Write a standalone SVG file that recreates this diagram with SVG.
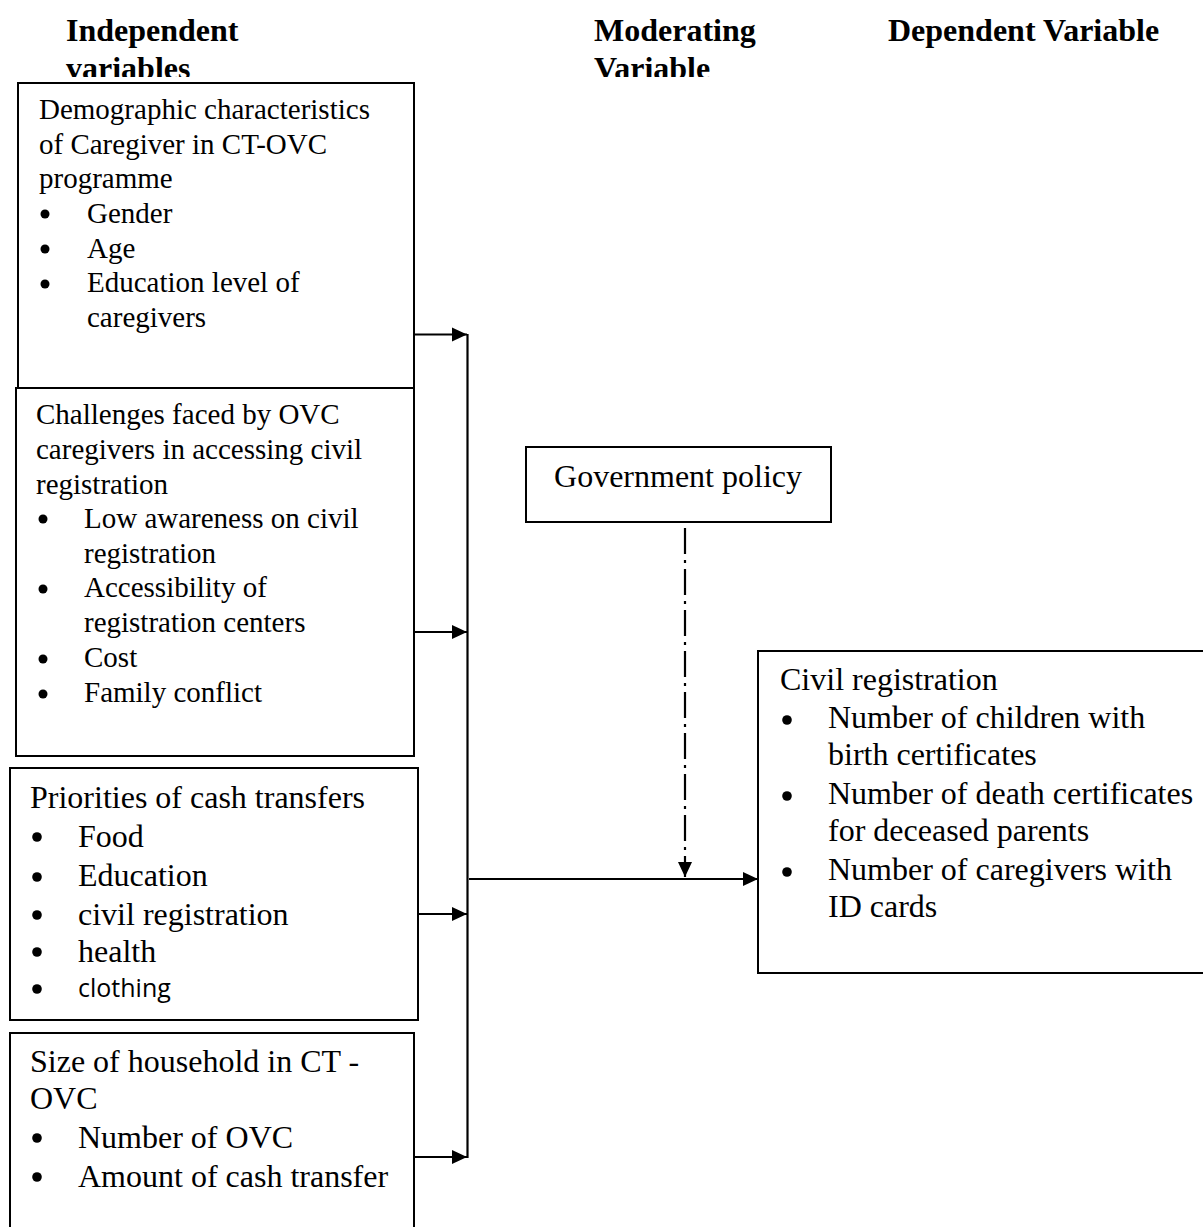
<svg xmlns="http://www.w3.org/2000/svg" width="1203" height="1227" viewBox="0 0 1203 1227">
<defs>
<style>
.box{fill:#fff;stroke:#000;stroke-width:2}
.t{font-family:"Liberation Serif","Times New Roman",serif;fill:#000}
.s29{font-size:29px}
.s32{font-size:32px}
.h{font-family:"Liberation Serif","Times New Roman",serif;font-weight:bold;font-size:32px;fill:#000}
.sans{font-family:"Open Sans","Liberation Sans",sans-serif;font-size:25px;fill:#000}
.b{fill:#000}
.ln{stroke:#000;stroke-width:2.2;fill:none}
.dd{stroke:#000;stroke-width:2.2;fill:none;stroke-dasharray:26 6 3 6}
</style>
<marker id="ah" markerUnits="userSpaceOnUse" markerWidth="16" markerHeight="16" viewBox="0 0 16 16" refX="15" refY="8" orient="auto">
<path d="M0,1 L15,8 L0,15 Z" fill="#000"/>
</marker>
<clipPath id="hclip"><rect x="0" y="0" width="1203" height="77"/></clipPath>
</defs>
<rect width="1203" height="1227" fill="#fff"/>

<g id="headings" clip-path="url(#hclip)">
<text class="h" x="66" y="41">Independent</text>
<text class="h" x="66" y="79">variables</text>
<text class="h" x="594" y="41">Moderating</text>
<text class="h" x="594" y="79">Variable</text>
<text class="h" x="888" y="41">Dependent Variable</text>
</g>

<g id="connectors">
<line class="ln" x1="467.5" y1="334" x2="467.5" y2="1158"/>
<line class="ln" x1="414" y1="334.5" x2="467" y2="334.5" marker-end="url(#ah)"/>
<line class="ln" x1="411" y1="632" x2="467" y2="632" marker-end="url(#ah)"/>
<line class="ln" x1="418" y1="914" x2="467" y2="914" marker-end="url(#ah)"/>
<line class="ln" x1="411" y1="1157" x2="467" y2="1157" marker-end="url(#ah)"/>
<line class="ln" x1="469" y1="879" x2="758" y2="879" marker-end="url(#ah)"/>
<line class="dd" x1="685" y1="528" x2="685" y2="877" marker-end="url(#ah)"/>
</g>

<g id="node-demographic">
<rect class="box" x="18" y="83" width="396" height="305"/>
<text class="t s29" x="39" y="119">Demographic characteristics</text>
<text class="t s29" x="39" y="153.7">of Caregiver in CT-OVC</text>
<text class="t s29" x="39" y="188.4">programme</text>
<circle class="b" cx="45" cy="214" r="4.5"/>
<text class="t s29" x="87" y="223">Gender</text>
<circle class="b" cx="45" cy="249" r="4.5"/>
<text class="t s29" x="87" y="257.7">Age</text>
<circle class="b" cx="45" cy="284" r="4.5"/>
<text class="t s29" x="87" y="292.4">Education level of</text>
<text class="t s29" x="87" y="327">caregivers</text>
</g>

<g id="node-challenges">
<rect class="box" x="16" y="388" width="398" height="368"/>
<text class="t s29" x="36" y="424">Challenges faced by OVC</text>
<text class="t s29" x="36" y="459">caregivers in accessing civil</text>
<text class="t s29" x="36" y="493.5">registration</text>
<circle class="b" cx="43" cy="519" r="4.5"/>
<text class="t s29" x="84" y="528">Low awareness on civil</text>
<text class="t s29" x="84" y="562.5">registration</text>
<circle class="b" cx="43" cy="589" r="4.5"/>
<text class="t s29" x="84" y="597">Accessibility of</text>
<text class="t s29" x="84" y="631.5">registration centers</text>
<circle class="b" cx="43" cy="659" r="4.5"/>
<text class="t s29" x="84" y="667">Cost</text>
<circle class="b" cx="43" cy="694" r="4.5"/>
<text class="t s29" x="84" y="702">Family conflict</text>
</g>

<g id="node-priorities">
<rect class="box" x="10" y="768" width="408" height="252"/>
<text class="t s32" x="30" y="808">Priorities of cash transfers</text>
<circle class="b" cx="37" cy="837" r="4.8"/>
<text class="t s32" x="78" y="847">Food</text>
<circle class="b" cx="37" cy="877" r="4.8"/>
<text class="t s32" x="78" y="886">Education</text>
<circle class="b" cx="37" cy="915" r="4.8"/>
<text class="t s32" x="78" y="925">civil registration</text>
<circle class="b" cx="37" cy="952" r="4.8"/>
<text class="t s32" x="78" y="962">health</text>
<circle class="b" cx="37" cy="989" r="4.8"/>
<text class="sans" x="78" y="997">clothing</text>
</g>

<g id="node-household">
<rect class="box" x="10" y="1033" width="404" height="220"/>
<text class="t s32" x="30" y="1072">Size of household in CT -</text>
<text class="t s32" x="30" y="1109">OVC</text>
<circle class="b" cx="37" cy="1138" r="4.8"/>
<text class="t s32" x="78" y="1148">Number of OVC</text>
<circle class="b" cx="37" cy="1177" r="4.8"/>
<text class="t s32" x="78" y="1187">Amount of cash transfer</text>
</g>

<g id="node-government">
<rect class="box" x="526" y="447" width="305" height="75"/>
<text class="t s32" x="678" y="487" text-anchor="middle">Government policy</text>
</g>

<g id="node-civil">
<rect class="box" x="758" y="651" width="460" height="322"/>
<text class="t s32" x="780" y="690">Civil registration</text>
<circle class="b" cx="787" cy="720" r="4.8"/>
<text class="t s32" x="828" y="728">Number of children with</text>
<text class="t s32" x="828" y="765">birth certificates</text>
<circle class="b" cx="787" cy="796" r="4.8"/>
<text class="t s32" x="828" y="804">Number of death certificates</text>
<text class="t s32" x="828" y="841">for deceased parents</text>
<circle class="b" cx="787" cy="872" r="4.8"/>
<text class="t s32" x="828" y="880">Number of caregivers with</text>
<text class="t s32" x="828" y="917">ID cards</text>
</g>
</svg>
